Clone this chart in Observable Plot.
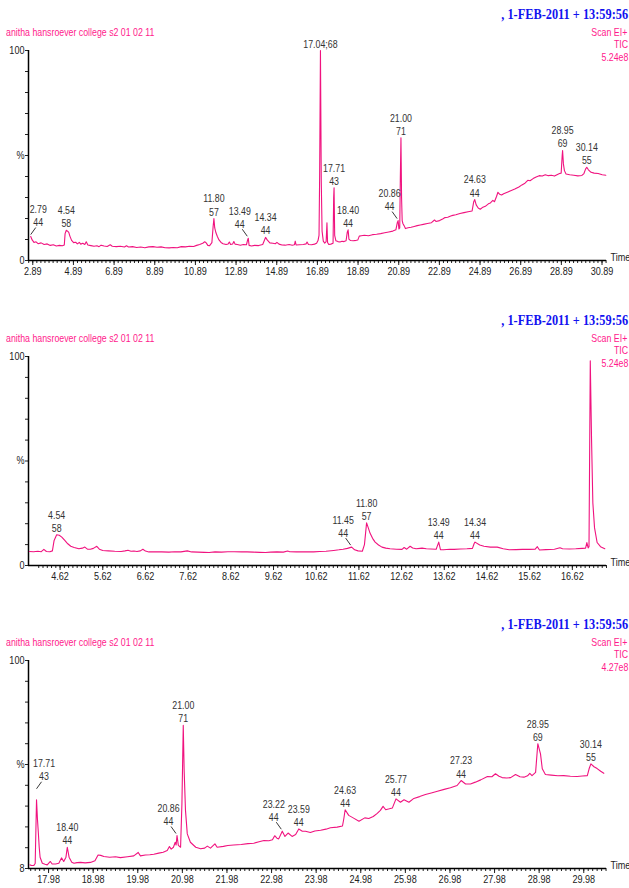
<!DOCTYPE html>
<html><head><meta charset="utf-8">
<script src="https://cdn.jsdelivr.net/npm/d3@7"></script>
<script src="https://cdn.jsdelivr.net/npm/@observablehq/plot@0.6"></script>
<style>
html,body{margin:0;padding:0;background:#fff;}
#root{position:relative;width:629px;height:888px;overflow:hidden;}
.pk{position:absolute;white-space:nowrap;font-family:"Liberation Sans",Arial,sans-serif;color:#ff1a8c;font-size:10.6px;line-height:12px;transform:scaleX(0.83);}
.pkl{transform-origin:left center;}
.pkr{transform-origin:right center;}
.date{position:absolute;white-space:nowrap;font-family:"Liberation Serif","Times New Roman",serif;font-weight:bold;color:#1212f0;font-size:14px;line-height:16px;transform:scaleX(0.88);transform-origin:right center;}
.panel{position:absolute;left:0;}
</style></head><body><div id="root"></div>
<script>
// ---------- data ----------
const sampleName = "anitha hansroever college s2 01 02 11";
const dateText = ",  1-FEB-2011 + 13:59:56";
const scanText = ["Scan EI+", "TIC"];
const intensities = ["5.24e8", "5.24e8", "4.27e8"];

// Panel 1 trace (retention time, min / relative abundance, %)
const p1Time = [2.79,2.86,2.95,3.05,3.15,3.30,3.45,3.60,3.75,3.90,4.05,4.20,4.35,4.44,4.48,4.54,4.60,4.66,4.72,4.80,4.90,5.00,5.08,5.18,5.25,5.35,5.45,5.52,5.60,5.75,5.90,6.05,6.15,6.25,6.40,6.55,6.70,6.80,7.00,7.20,7.40,7.50,7.60,7.80,8.00,8.20,8.40,8.60,8.80,9.00,9.20,9.40,9.60,9.80,10.00,10.20,10.40,10.60,10.80,10.95,11.10,11.25,11.35,11.42,11.50,11.58,11.70,11.76,11.80,11.84,11.90,11.97,12.05,12.15,12.25,12.40,12.50,12.56,12.62,12.72,12.78,12.84,12.95,13.10,13.25,13.40,13.45,13.49,13.53,13.65,13.80,14.00,14.20,14.28,14.34,14.42,14.55,14.70,14.82,14.90,15.00,15.15,15.30,15.50,15.65,15.76,15.80,15.84,16.00,16.20,16.33,16.38,16.45,16.60,16.75,16.85,16.92,16.97,17.00,17.04,17.08,17.12,17.18,17.25,17.32,17.36,17.39,17.45,17.55,17.66,17.69,17.71,17.74,17.80,17.90,18.00,18.10,18.20,18.30,18.36,18.40,18.44,18.52,18.65,18.80,18.88,18.95,19.05,19.20,19.40,19.60,19.80,20.00,20.20,20.40,20.60,20.75,20.82,20.86,20.90,20.94,20.97,21.00,21.03,21.06,21.10,21.16,21.22,21.35,21.50,21.65,21.80,21.95,22.10,22.30,22.50,22.65,22.72,22.90,23.05,23.15,23.30,23.45,23.55,23.70,23.90,24.10,24.30,24.50,24.58,24.63,24.70,24.80,24.90,25.00,25.15,25.30,25.40,25.52,25.60,25.70,25.77,25.85,25.95,26.05,26.20,26.40,26.60,26.80,26.95,27.10,27.24,27.35,27.50,27.65,27.80,27.95,28.10,28.25,28.40,28.55,28.70,28.80,28.88,28.93,28.95,28.99,29.04,29.12,29.30,29.50,29.70,29.90,30.00,30.08,30.14,30.22,30.35,30.50,30.70,30.90,31.08];
const p1Value = [11.4,9.8,8.6,8.9,8.0,8.4,7.6,7.9,7.2,7.5,6.9,7.2,7.0,7.4,12.8,14.4,14.0,13.4,11.5,9.6,8.5,8.7,7.9,8.6,7.8,8.2,7.6,8.9,7.4,7.1,6.8,7.0,6.6,7.3,6.9,6.7,7.5,6.8,6.6,6.8,6.4,7.0,6.4,6.6,6.2,6.4,6.1,6.5,6.6,6.3,6.5,6.1,6.0,6.2,6.1,6.6,6.5,6.8,6.7,7.2,7.6,8.2,8.9,8.4,7.2,7.0,8.5,16,20.0,15.5,13.2,11.4,9.8,8.6,8.0,7.6,7.9,8.8,7.6,7.9,9.0,7.8,7.6,7.3,7.6,7.5,9.5,10.6,7.2,6.9,7.2,7.1,7.6,9.5,11.0,9.8,8.4,8.2,8.0,8.6,7.8,7.4,7.3,7.6,7.3,7.5,9.2,7.4,7.5,7.6,7.9,8.8,7.6,7.5,7.8,8.2,9.5,12,40,100,38,14,9.2,8.3,9.0,18,8.6,7.6,7.8,8.2,30,34.6,12,9.4,9.0,8.8,9.2,9.0,9.4,13.5,14.6,10.2,9.5,9.4,9.6,9.8,11.6,11.8,12.0,11.8,12.3,12.5,12.8,13.2,13.6,14.0,14.6,18.0,19.0,15.0,15.5,40,58.4,30,19,17.5,16.5,15.2,15.6,15.8,16.2,16.6,16.9,17.2,17.6,18.0,19.3,18.6,19.0,19.8,20.4,20.6,21.2,21.5,21.8,22.4,22.8,23.2,23.6,28,29,26.5,25.0,24.4,25.2,25.8,27.0,27.4,28.6,28.0,30.5,32.5,31.6,31.2,31.8,32.4,33.2,34.0,35.0,36.0,36.8,38.2,38.0,39.0,39.8,40.4,40.2,40.8,40.4,40.6,40.2,41.0,41.4,41.6,50,52.4,46,42.8,41.2,40.8,40.6,40.3,40.5,41.4,43.5,44.4,43.2,42.0,41.6,41.4,40.8,40.6];

// Panel 2 trace
const p2Time = [3.90,4.00,4.10,4.18,4.24,4.30,4.38,4.44,4.48,4.54,4.60,4.66,4.73,4.80,4.87,4.95,5.06,5.14,5.20,5.26,5.33,5.40,5.48,5.54,5.62,5.75,5.90,6.05,6.14,6.21,6.28,6.35,6.42,6.50,6.56,6.62,6.70,6.85,7.00,7.17,7.30,7.45,7.60,7.70,7.85,8.00,8.11,8.25,8.40,8.55,8.70,8.87,9.00,9.15,9.30,9.43,9.55,9.70,9.85,9.95,10.00,10.15,10.30,10.45,10.56,10.70,10.85,11.03,11.15,11.25,11.35,11.45,11.52,11.60,11.70,11.75,11.80,11.84,11.88,11.94,12.00,12.08,12.16,12.25,12.35,12.50,12.63,12.68,12.74,12.82,12.88,12.96,13.05,13.10,13.20,13.30,13.43,13.46,13.49,13.53,13.60,13.75,13.85,14.00,14.15,14.28,14.32,14.34,14.45,14.55,14.70,14.86,15.00,15.14,15.30,15.45,15.61,15.75,15.80,15.85,16.00,16.20,16.33,16.39,16.55,16.70,16.85,16.93,16.96,16.99,17.01,17.04,17.07,17.10,17.14,17.20,17.28,17.38];
const p2Value = [6.7,6.6,6.8,6.6,7.7,6.7,6.6,7.0,12.0,14.7,14.5,13.6,12.0,10.4,9.2,8.6,8.0,8.3,8.8,7.8,7.8,8.2,9.2,7.8,7.2,7.0,6.8,6.7,7.0,7.3,6.8,6.9,6.7,7.0,7.8,6.9,6.5,6.6,6.5,6.4,6.6,6.5,7.0,6.5,6.4,6.3,6.2,6.5,6.4,6.6,6.6,6.5,6.5,6.4,6.3,6.2,6.4,6.5,6.4,6.9,6.6,6.5,6.6,6.5,6.5,6.7,6.8,7.2,7.5,7.8,8.2,8.8,7.5,7.0,6.8,10,20.4,18,15.5,13,11.2,9.8,8.8,8.3,8.0,7.8,7.7,8.6,7.8,9.2,8.4,8.0,8.2,8.3,8.0,7.9,7.8,9.5,11.2,7.6,7.5,7.8,7.7,7.9,8.0,8.2,10.5,11.2,9.8,9.2,8.8,8.8,8.0,7.5,7.6,7.7,7.7,7.8,9.0,7.4,7.6,7.8,8.5,8.0,7.9,8.0,8.2,8.3,11.0,8.4,9,98,60,30,18,11,9.0,8.0];

// Panel 3 trace
const p3Time = [17.56,17.60,17.65,17.68,17.71,17.73,17.75,17.77,17.79,17.84,17.90,17.95,18.02,18.06,18.14,18.21,18.27,18.32,18.37,18.40,18.44,18.50,18.55,18.62,18.70,18.80,18.92,19.02,19.09,19.15,19.22,19.35,19.48,19.59,19.75,19.89,19.99,20.04,20.15,20.25,20.34,20.45,20.55,20.64,20.69,20.73,20.78,20.82,20.84,20.86,20.89,20.94,20.97,21.00,21.02,21.05,21.09,21.16,21.28,21.39,21.48,21.54,21.61,21.71,21.76,21.90,22.00,22.13,22.30,22.45,22.58,22.70,22.81,22.92,23.00,23.05,23.10,23.14,23.22,23.28,23.35,23.44,23.52,23.59,23.67,23.74,23.85,23.95,24.08,24.20,24.30,24.45,24.57,24.60,24.63,24.71,24.81,24.94,25.07,25.16,25.26,25.35,25.42,25.48,25.54,25.62,25.69,25.77,25.87,25.95,26.06,26.17,26.30,26.43,26.56,26.70,26.85,26.99,27.14,27.23,27.33,27.44,27.55,27.67,27.82,27.92,28.00,28.08,28.15,28.25,28.34,28.45,28.55,28.64,28.72,28.77,28.82,28.90,28.95,29.01,29.05,29.12,29.25,29.40,29.53,29.68,29.83,29.95,30.06,30.10,30.14,30.21,30.28,30.36,30.43];
const p3Value = [9.6,9.3,9.4,10.2,38.4,30,24,17.4,13,10.3,9.9,9.6,11.1,10.0,10.0,10.3,12.7,11.1,13,17.4,13,10.8,10.3,10.6,10.7,10.5,10.7,11.4,14.0,13.8,13.3,13.0,13.2,12.8,13.2,13.6,15.1,13.6,14.0,14.1,14.3,14.8,15.2,16.0,17.7,16.6,17.4,19.6,18.4,22.6,18.2,17.4,36.6,71.3,51.4,33.7,23.3,19.6,17.4,16.7,17.0,17.9,17.0,18.9,17.4,17.8,18.2,18.4,18.6,19.0,19.2,19.8,20.4,20.3,20.7,22.5,21.4,21.1,24.5,22.2,23.7,22.2,23.0,25.5,24.5,24.5,23.9,24.6,24.9,25.4,26.0,26.3,26.8,30,34.0,31.5,30.4,28.9,30.4,30.1,31.0,32.4,33.7,35.5,34.0,34.4,34.8,38.8,37.3,38.4,37.3,39.0,39.8,40.7,41.4,42.2,43.0,43.7,44.7,46.9,45.4,45.4,46.2,47.2,48.7,48.6,49.9,48.8,48.2,48.0,48.2,49.6,48.6,48.4,49.0,50.1,49.1,50.5,63.2,58.7,52.1,49.6,49.3,49.0,49.1,48.8,48.7,48.9,49.1,52.1,54.3,53.0,52.2,51.0,50.1];

// Peak annotations: retention time and base ion mass
const p1PeakTime = [2.79,4.54,11.80,13.49,14.34,17.04,17.71,18.40,20.86,21.00,24.63,28.95,30.14];
const p1PeakMass = [44,58,57,44,44,68,43,44,44,71,44,69,55];
const p2PeakTime = [4.54,11.45,11.80,13.49,14.34];
const p2PeakMass = [58,44,57,44,44];
const p3PeakTime = [17.71,18.40,20.86,21.00,23.22,23.59,24.63,25.77,27.23,28.95,30.14];
const p3PeakMass = [43,44,44,71,44,44,44,44,44,69,55];

// Axis tick labels
const p1Ticks = [2.89,4.89,6.89,8.89,10.89,12.89,14.89,16.89,18.89,20.89,22.89,24.89,26.89,28.89,30.89];
const p2Ticks = [4.62,5.62,6.62,7.62,8.62,9.62,10.62,11.62,12.62,13.62,14.62,15.62,16.62];
const p3Ticks = [17.98,18.98,19.98,20.98,21.98,22.98,23.98,24.98,25.98,26.98,27.98,28.98,29.98];

// ---------- layout / style (not data) ----------
const PINK = "#f0137f";
const FONT = '"Liberation Sans",Arial,sans-serif';
const NARROW = 0.84;
// label nudges: side of leader line (0 = none, 1 = right, -1 = left), extra lift in px
const nudge1 = {"2.79":[1,0],"13.49":[-1,0],"20.86":[-1,0]};
const nudge2 = {"11.45":[-1,0]};
const nudge3 = {"17.71":[1,9],"20.86":[-1,0],"23.22":[-1,0]};

const root = document.getElementById("root");

function addDiv(cls, text, css) {
  const d = document.createElement("div");
  d.className = cls; d.textContent = text;
  Object.assign(d.style, css);
  root.appendChild(d);
}

function makePanel(o) {
  const data = o.t.map((t, i) => ({t, v: o.v[i]}));
  const labels = o.pt.map((t, i) => {
    const j = o.t.indexOf(t);
    const n = o.nudge[t.toFixed(2)] || [0, 0];
    return {t, v: o.v[j], side: n[0], lift: n[1],
      text: o.single && o.single === t ? `${t.toFixed(2)};${o.pm[i]}` : `${t.toFixed(2)}\n${o.pm[i]}`};
  });
  const plain = labels.filter(d => d.side === 0);
  const leaders = labels.filter(d => d.side !== 0);
  const minor = d3.range(-5, 400).map(i => +(o.ticks[0] + i * o.minorStep).toFixed(3))
    .filter(d => d >= o.xd[0] && d <= o.xd[1]);
  const yTicks = d3.range(0, 11).map(i => o.yd[0] + i * (o.yd[1] - o.yd[0]) / 10);
  const plot = Plot.plot({
    width: 629, height: o.h, marginLeft: 28, marginRight: 23, marginTop: o.mt, marginBottom: o.mb,
    x: {domain: o.xd}, y: {domain: o.yd},
    style: {fontFamily: FONT, fontSize: "10.8px", color: "#222", background: "transparent", overflow: "visible"},
    marks: [
      Plot.axisY({ticks: yTicks, tickSize: 3, tickPadding: 1, label: null,
        tickFormat: (d, i) => i === 10 ? "100" : i === 5 ? "%" : i === 0 ? o.yBottomLabel : ""}),
      Plot.axisX({ticks: minor, tickSize: 3, label: null, tickFormat: () => ""}),
      Plot.axisX({ticks: o.ticks, tickSize: 5, tickPadding: 2, label: null, tickFormat: d => d.toFixed(2)}),
      Plot.ruleX([o.xd[0]], {stroke: "#000", strokeWidth: 1.5}),
      Plot.ruleY([o.yd[0]], {stroke: "#000", strokeWidth: 1.5}),
      Plot.line(data, {x: "t", y: "v", stroke: PINK, strokeWidth: 1.1}),
      Plot.text(plain, {x: "t", y: "v", text: "text", lineAnchor: "bottom", lineHeight: 1.25, dy: -3, fontSize: 10.5, fill: "#333"}),
      Plot.text(["Time"], {frameAnchor: "bottom-right", textAnchor: "start", dx: 4, fill: "#222"})
    ]
  });
  const sx = plot.scale("x"), sy = plot.scale("y");
  const g = d3.select(plot).append("g");
  for (const d of leaders) {
    const px = sx.apply(d.t), py = sy.apply(d.v) - d.lift;
    g.append("line").attr("x1", px + d.side * 0.5).attr("y1", py - 1.5)
      .attr("x2", px + d.side * 5.5).attr("y2", py - 8.5)
      .attr("stroke", "#222").attr("stroke-width", 0.9);
    const lines = d.text.split("\n");
    const t = g.append("text").attr("text-anchor", "middle")
      .attr("font-family", FONT).attr("font-size", 10.5).attr("fill", "#333")
      .attr("transform", `translate(${px + d.side * 8},${py - 10})`);
    lines.forEach((s, k) => t.append("tspan").attr("x", 0).attr("y", (k - lines.length + 1) * 13).text(s));
  }
  // narrow the lettering like the instrument print-out
  d3.select(plot).selectAll("text").each(function () {
    const tr = this.getAttribute("transform");
    if (tr) this.setAttribute("transform", `${tr} scale(${NARROW},1)`);
  });
  plot.classList.add("panel");
  plot.style.top = o.top + "px";
  root.appendChild(plot);
}

makePanel({t: p1Time, v: p1Value, pt: p1PeakTime, pm: p1PeakMass, ticks: p1Ticks, minorStep: 0.2,
  xd: [2.68, 31.11], yd: [0, 100], yBottomLabel: "0", h: 290, mt: 50, mb: 30, top: 0, nudge: nudge1, single: 17.04});
makePanel({t: p2Time, v: p2Value, pt: p2PeakTime, pm: p2PeakMass, ticks: p2Ticks, minorStep: 0.1,
  xd: [3.88, 17.42], yd: [0, 100], yBottomLabel: "0", h: 295, mt: 56, mb: 30, top: 300, nudge: nudge2});
makePanel({t: p3Time, v: p3Value, pt: p3PeakTime, pm: p3PeakMass, ticks: p3Ticks, minorStep: 0.1,
  xd: [17.53, 30.49], yd: [8, 100], yBottomLabel: "8", h: 288, mt: 60, mb: 20, top: 600, nudge: nudge3});

// headers
const hdrTops = [0, 306, 610];
hdrTops.forEach((o, k) => {
  addDiv("date", dateText, {right: "1px", top: (o + 7) + "px"});
  addDiv("pk pkl", sampleName, {left: "6px", top: (o + 26) + "px"});
  addDiv("pk pkr", scanText[0], {right: "2px", top: (o + 26) + "px"});
  addDiv("pk pkr", scanText[1], {right: "1px", top: (o + 38) + "px"});
  addDiv("pk pkr", intensities[k], {right: "1px", top: (o + 51) + "px"});
});
</script></body></html>
